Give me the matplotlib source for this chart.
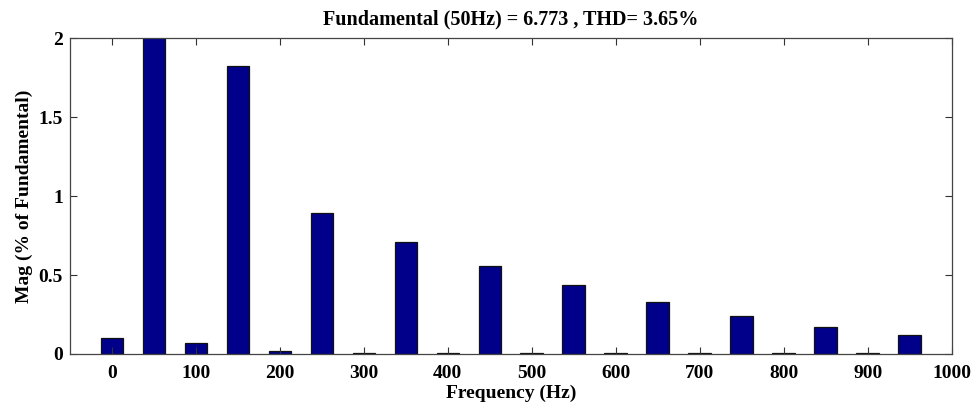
import numpy as np
import matplotlib
matplotlib.use("Agg")
import matplotlib.pyplot as plt

matplotlib.rcParams.update({
    "font.family": "Liberation Serif",
    "font.weight": "bold",
    "font.size": 14,
})

# harmonic spectrum, magnitude in % of fundamental
freqs = [0, 50, 100, 150, 200, 250, 300, 350, 400, 450,
         500, 550, 600, 650, 700, 750, 800, 850, 900, 950]
mags = [0.103, 100.0, 0.071, 1.823, 0.019, 0.894, 0.008, 0.707, 0.008, 0.559,
        0.008, 0.439, 0.008, 0.327, 0.008, 0.242, 0.008, 0.173, 0.008, 0.118]
fund_hz = 50
fund_mag = 6.773
thd = 3.65

fig = plt.figure(figsize=(9.77, 4.09), dpi=100)
ax = fig.add_axes([0.0717, 0.1345, 0.9023, 0.7725])

ax.bar(freqs, mags, width=27, color="#00008B", edgecolor="#111111", linewidth=0.9)

ax.set_xlim(-50, 1000)
ax.set_ylim(0, 2)
ax.set_xticks(np.arange(0, 1001, 100))
ax.set_yticks([0, 0.5, 1, 1.5, 2])
ax.set_yticklabels(["0", "0.5", "1", "1.5", "2"])
ax.tick_params(direction="in", length=5, width=0.8, top=True, right=True,
               labelsize=14, color="#333333")
ax.tick_params(axis="x", pad=8)
ax.tick_params(axis="y", pad=5)
for s in ax.spines.values():
    s.set_color("#444444")
    s.set_linewidth(0.9)

ax.set_xlabel("Frequency (Hz)", fontsize=14, fontweight="bold", labelpad=2)
ax.set_ylabel("Mag (% of Fundamental)", fontsize=14, fontweight="bold", labelpad=4)
ax.set_title(f"Fundamental ({fund_hz}Hz) = {fund_mag} , THD= {thd}%",
             fontsize=14.5, fontweight="bold", pad=10)

fig.savefig("out.png", dpi=100)
